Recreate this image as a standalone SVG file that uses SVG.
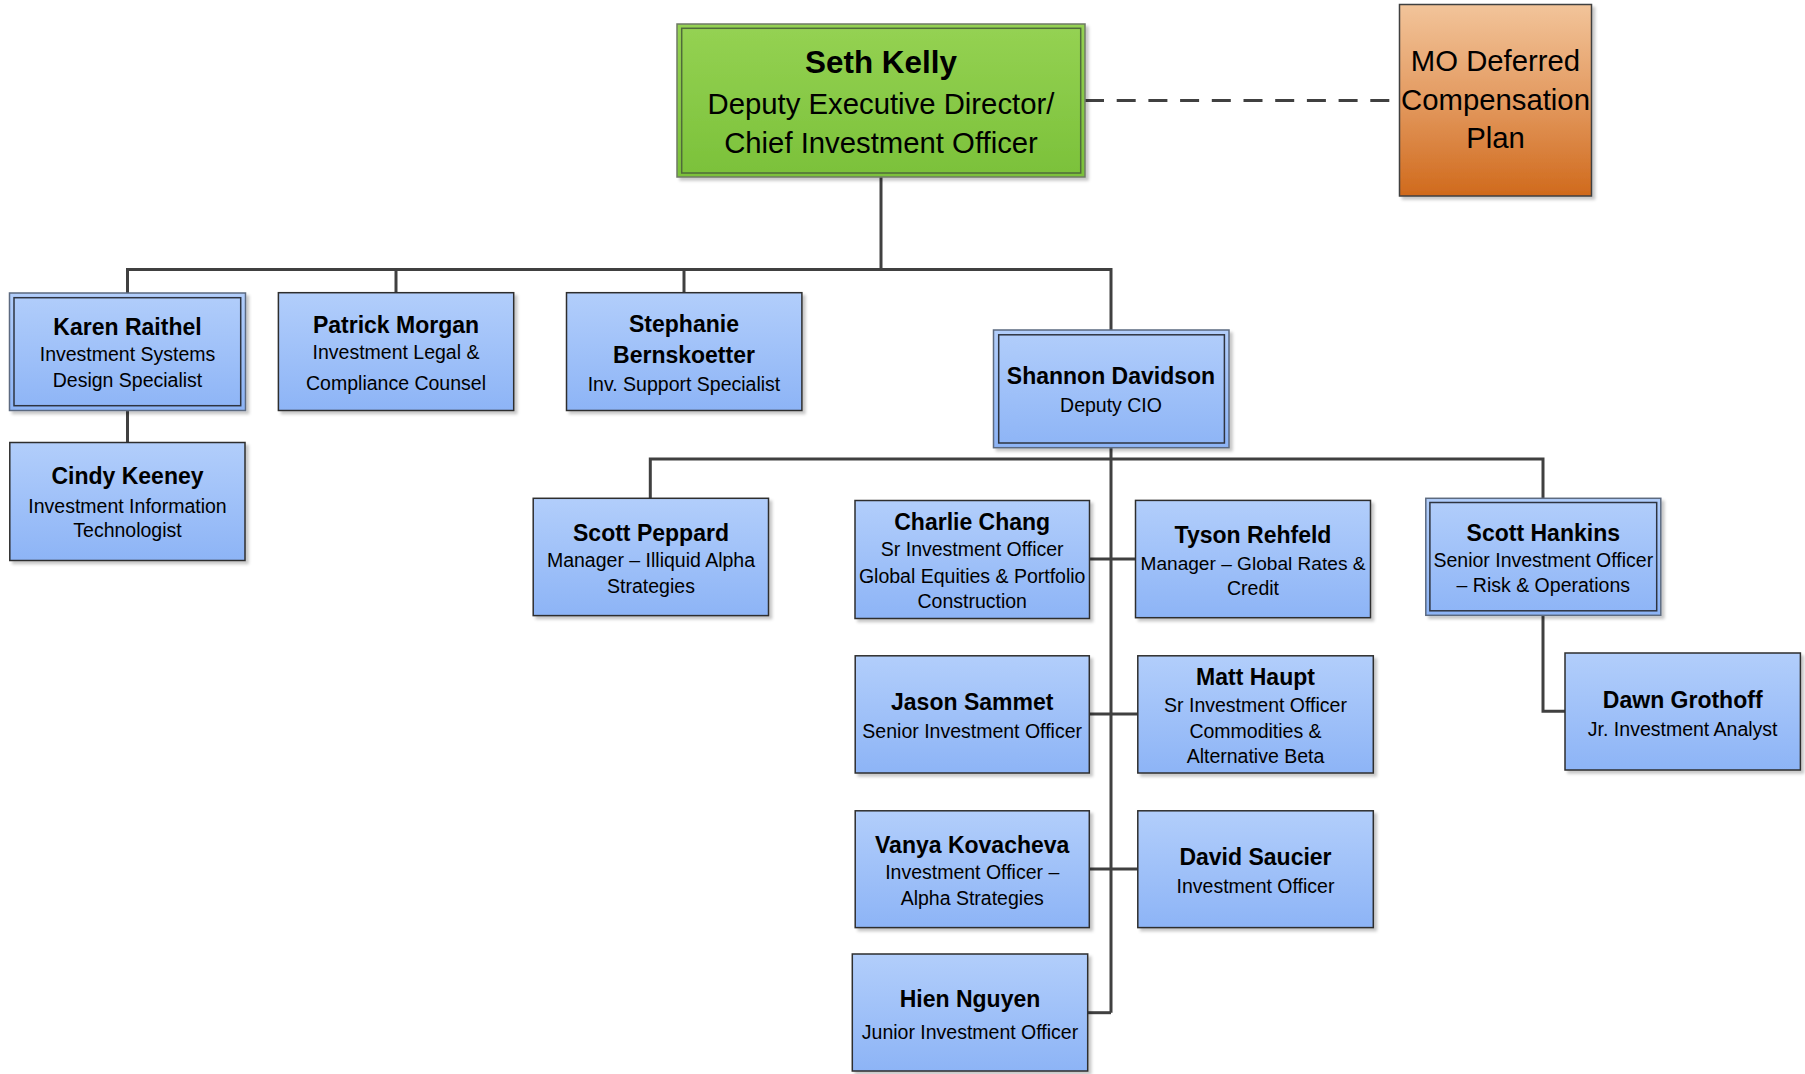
<svg xmlns="http://www.w3.org/2000/svg" width="1805" height="1074" viewBox="0 0 1805 1074">
<defs>
<linearGradient id="gBlue" x1="0" y1="0" x2="0" y2="1">
<stop offset="0" stop-color="#B2CEFB"/>
<stop offset="1" stop-color="#8DB4F6"/>
</linearGradient>
<linearGradient id="gGreen" x1="0" y1="0" x2="0" y2="1">
<stop offset="0" stop-color="#95D253"/>
<stop offset="1" stop-color="#7BC13A"/>
</linearGradient>
<linearGradient id="gOrange" x1="0" y1="0" x2="0" y2="1">
<stop offset="0" stop-color="#F2C49A"/>
<stop offset="0.5" stop-color="#E39A60"/>
<stop offset="1" stop-color="#D06A1C"/>
</linearGradient>
<filter id="sh" x="-10%" y="-10%" width="125%" height="130%">
<feDropShadow dx="3" dy="3" stdDeviation="1.5" flood-color="#000" flood-opacity="0.22"/>
</filter>
</defs>
<style>
.box{fill:url(#gBlue);stroke:#2e2e2e;stroke-width:1.5;filter:url(#sh)}
.outer{fill:url(#gBlue);stroke:#5c6a80;stroke-width:1.5;filter:url(#sh)}
.inner{fill:none;stroke:#2e3440;stroke-width:1.5}
.name{font-family:"Liberation Sans",Arial,sans-serif;font-weight:bold;font-size:23px;fill:#000;text-anchor:middle}
.sub{font-family:"Liberation Sans",Arial,sans-serif;font-size:19.5px;fill:#000;text-anchor:middle}
.big{font-family:"Liberation Sans",Arial,sans-serif;font-size:29.3px;fill:#000;text-anchor:middle}
.bigb{font-family:"Liberation Sans",Arial,sans-serif;font-weight:bold;font-size:31.4px;fill:#000;text-anchor:middle}
.ln{fill:none;stroke:#404040;stroke-width:3}
</style>

<g id="connectors">
<polyline class="ln" points="881,177 881,269.5"/>
<polyline class="ln" points="127.5,293 127.5,269.5 1111,269.5 1111,330"/>
<line class="ln" x1="396" y1="269.5" x2="396" y2="292.7"/>
<line class="ln" x1="684" y1="269.5" x2="684" y2="292.7"/>
<line class="ln" x1="127.5" y1="410.5" x2="127.5" y2="442.5"/>
<line class="ln" x1="1111" y1="447.7" x2="1111" y2="1012.7"/>
<polyline class="ln" points="650.3,498.3 650.3,459 1543,459 1543,498.3"/>
<line class="ln" x1="1089.5" y1="559" x2="1135.5" y2="559"/>
<line class="ln" x1="1089.3" y1="714" x2="1137.8" y2="714"/>
<line class="ln" x1="1089.3" y1="869" x2="1137.8" y2="869"/>
<line class="ln" x1="1087.7" y1="1012.7" x2="1111" y2="1012.7"/>
<polyline class="ln" points="1543,615.3 1543,711.3 1565,711.3"/>
<line class="ln" x1="1085" y1="100.6" x2="1399.5" y2="100.6" stroke-dasharray="19 12.7"/>
</g>

<g id="seth-kelly">
<rect x="677" y="24" width="408" height="153" fill="url(#gGreen)" stroke="#6f7a66" stroke-width="1.5" filter="url(#sh)"/>
<rect x="681.7" y="28.3" width="399" height="144.7" fill="none" stroke="#4f6b3a" stroke-width="1.5"/>
<text class="bigb" x="881" y="73.3">Seth Kelly</text>
<text class="big" x="881" y="114.3">Deputy Executive Director/</text>
<text class="big" x="881" y="152.7">Chief Investment Officer</text>
</g>

<g id="mo-deferred">
<rect x="1399.5" y="4.5" width="192" height="191.5" fill="url(#gOrange)" stroke="#404040" stroke-width="1.5" filter="url(#sh)"/>
<text class="big" x="1495.5" y="71">MO Deferred</text>
<text class="big" x="1495.5" y="110">Compensation</text>
<text class="big" x="1495.5" y="147.7">Plan</text>
</g>

<g id="karen-raithel">
<rect class="outer" x="9.5" y="293" width="236" height="117.5"/>
<rect class="inner" x="14" y="297.7" width="226.7" height="108"/>
<text class="name" x="127.5" y="335">Karen Raithel</text>
<text class="sub" x="127.5" y="361">Investment Systems</text>
<text class="sub" x="127.5" y="386.7">Design Specialist</text>
</g>

<g id="patrick-morgan">
<rect class="box" x="278.4" y="292.7" width="235.3" height="117.8"/>
<text class="name" x="396" y="332.5">Patrick Morgan</text>
<text class="sub" x="396" y="359">Investment Legal &amp;</text>
<text class="sub" x="396" y="389.5">Compliance Counsel</text>
</g>

<g id="stephanie-bernskoetter">
<rect class="box" x="566.5" y="292.7" width="235.4" height="117.8"/>
<text class="name" x="684" y="331.6">Stephanie</text>
<text class="name" x="684" y="363">Bernskoetter</text>
<text class="sub" x="684" y="391">Inv. Support Specialist</text>
</g>

<g id="cindy-keeney">
<rect class="box" x="9.8" y="442.5" width="235.2" height="118"/>
<text class="name" x="127.5" y="484">Cindy Keeney</text>
<text class="sub" x="127.5" y="512.5">Investment Information</text>
<text class="sub" x="127.5" y="537">Technologist</text>
</g>

<g id="shannon-davidson">
<rect class="outer" x="993.5" y="330" width="235.5" height="117.7"/>
<rect class="inner" x="998.7" y="334.8" width="225.7" height="108.2"/>
<text class="name" x="1111" y="384">Shannon Davidson</text>
<text class="sub" x="1111" y="411.6">Deputy CIO</text>
</g>

<g id="scott-peppard">
<rect class="box" x="533.2" y="498.3" width="235.3" height="117.3"/>
<text class="name" x="651" y="541">Scott Peppard</text>
<text class="sub" x="651" y="567">Manager – Illiquid Alpha</text>
<text class="sub" x="651" y="593">Strategies</text>
</g>

<g id="charlie-chang">
<rect class="box" x="855" y="500.5" width="234.5" height="118"/>
<text class="name" x="972.2" y="530">Charlie Chang</text>
<text class="sub" x="972.2" y="556">Sr Investment Officer</text>
<text class="sub" x="972.2" y="582.6">Global Equities &amp; Portfolio</text>
<text class="sub" x="972.2" y="608">Construction</text>
</g>

<g id="tyson-rehfeld">
<rect class="box" x="1135.5" y="500.4" width="235" height="117.3"/>
<text class="name" x="1253" y="543">Tyson Rehfeld</text>
<text class="sub" x="1253" y="570" style="font-size:19.1px">Manager – Global Rates &amp;</text>
<text class="sub" x="1253" y="594.5">Credit</text>
</g>

<g id="scott-hankins">
<rect class="outer" x="1425.8" y="498.3" width="235" height="117"/>
<rect class="inner" x="1429.9" y="502.5" width="226.8" height="108.3"/>
<text class="name" x="1543.3" y="541">Scott Hankins</text>
<text class="sub" x="1543.3" y="567">Senior Investment Officer</text>
<text class="sub" x="1543.3" y="591.8">– Risk &amp; Operations</text>
</g>

<g id="jason-sammet">
<rect class="box" x="855.2" y="655.8" width="234.1" height="117.2"/>
<text class="name" x="972.2" y="710.3">Jason Sammet</text>
<text class="sub" x="972.2" y="737.5">Senior Investment Officer</text>
</g>

<g id="matt-haupt">
<rect class="box" x="1137.8" y="655.8" width="235.5" height="117.2"/>
<text class="name" x="1255.5" y="684.8">Matt Haupt</text>
<text class="sub" x="1255.5" y="712">Sr Investment Officer</text>
<text class="sub" x="1255.5" y="737.5">Commodities &amp;</text>
<text class="sub" x="1255.5" y="763">Alternative Beta</text>
</g>

<g id="dawn-grothoff">
<rect class="box" x="1565" y="653" width="235.4" height="117"/>
<text class="name" x="1682.7" y="707.6">Dawn Grothoff</text>
<text class="sub" x="1682.7" y="735.8">Jr. Investment Analyst</text>
</g>

<g id="vanya-kovacheva">
<rect class="box" x="855.2" y="810.8" width="234.1" height="116.8"/>
<text class="name" x="972.2" y="852.7">Vanya Kovacheva</text>
<text class="sub" x="972.2" y="879">Investment Officer –</text>
<text class="sub" x="972.2" y="905">Alpha Strategies</text>
</g>

<g id="david-saucier">
<rect class="box" x="1137.8" y="810.8" width="235.5" height="116.8"/>
<text class="name" x="1255.5" y="865">David Saucier</text>
<text class="sub" x="1255.5" y="892.5">Investment Officer</text>
</g>

<g id="hien-nguyen">
<rect class="box" x="852.3" y="954" width="235.4" height="117"/>
<text class="name" x="970" y="1006.7">Hien Nguyen</text>
<text class="sub" x="970" y="1039">Junior Investment Officer</text>
</g>
</svg>
